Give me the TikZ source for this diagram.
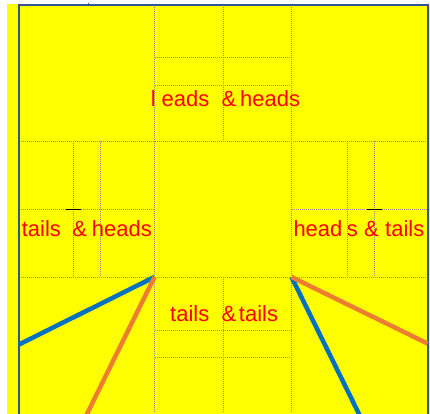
\documentclass[tikz,border=0pt]{standalone}
\usepackage{fontspec}
\setmainfont{Liberation Sans}
\definecolor{bgyellow}{HTML}{FFFF00}
\definecolor{frameblue}{HTML}{2F5597}
\definecolor{lineblue}{HTML}{0070C0}
\definecolor{lineorange}{HTML}{ED7D31}
\definecolor{txtred}{HTML}{FF0000}
\tikzset{
  gridline/.style={draw=black!45, line width=0.8pt, dash pattern=on 1pt off 1pt},
  thickline/.style={line width=4.5pt, line cap=butt},
  word/.style={text=txtred, font=\fontsize{22}{22}\selectfont, anchor=base west, inner sep=0pt, outer sep=0pt},
  tickmark/.style={draw=black, line width=0.8pt}
}
\begin{document}
\begin{tikzpicture}[x=1pt,y=-1pt]
\useasboundingbox (0,0) rectangle (430,413);
\clip (0,0) rectangle (430,413);
% background
\fill[bgyellow] (7,4) rectangle (431,414);
% grid
\draw[gridline] (154.5,5) -- (154.5,413);
\draw[gridline] (291.5,5) -- (291.5,413);
\draw[gridline] (223,5) -- (223,141);
\draw[gridline] (223,277) -- (223,413);
\draw[gridline] (19,141) -- (427.5,141);
\draw[gridline] (19,277) -- (427.5,277);
\draw[gridline] (19,209) -- (154.5,209);
\draw[gridline] (291.5,209) -- (427.5,209);
\draw[gridline] (154.5,57.3) -- (291.5,57.3);
\draw[gridline] (154.5,85.3) -- (291.5,85.3);
\draw[gridline] (154.5,330.5) -- (291.5,330.5);
\draw[gridline] (154.5,357.3) -- (291.5,357.3);
\draw[gridline] (73,141) -- (73,277);
\draw[gridline] (100.8,141) -- (100.8,277);
\draw[gridline] (347.2,141) -- (347.2,277);
\draw[gridline] (374.3,141) -- (374.3,277);
% small black marks
\draw[tickmark] (66,209) -- (81,209);
\draw[tickmark] (367,209) -- (382,209);
% frame
\draw[frameblue, line width=2pt] (19,414) -- (19,5) -- (427.5,5) -- (427.5,414);
\draw[frameblue, line width=1pt] (88.3,2.5) -- (88.3,5);
% thick lines
\coordinate (cl) at (154.5,277);
\coordinate (cr) at (291.5,277);
\coordinate (bl) at (19,344.5);
\coordinate (ol) at (84,420);
\coordinate (br) at (362,420);
\coordinate (or) at (427.5,343.5);
\draw[thickline, lineblue] (bl) -- (cl);
\draw[thickline, lineorange] (cl) -- (ol);
\draw[thickline, lineblue] (cr) -- (br);
\draw[thickline, lineorange] (cr) -- (or);
% texts
\node[word] (t1) at (150.8,106.7) {l};
\node[word] (t2) at (161.7,106.7) {eads};
\node[word] (t3) at (221.7,106.7) {\&};
\node[word] (t4) at (240.2,106.7) {heads};
\node[word] (l1) at (21.8,236.7) {tails};
\node[word] (l2) at (72.4,236.7) {\&};
\node[word] (l3) at (91.9,236.7) {heads};
\node[word] (r1) at (293.5,236.7) {head};
\node[word] (r2) at (346.9,236.7) {s};
\node[word] (r3) at (364.1,236.7) {\&};
\node[word] (r4) at (385.2,236.7) {tails};
\node[word] (b1) at (170.2,321.7) {tails};
\node[word] (b2) at (221.7,321.7) {\&};
\node[word] (b3) at (238.9,321.7) {tails};
\end{tikzpicture}
\end{document}
